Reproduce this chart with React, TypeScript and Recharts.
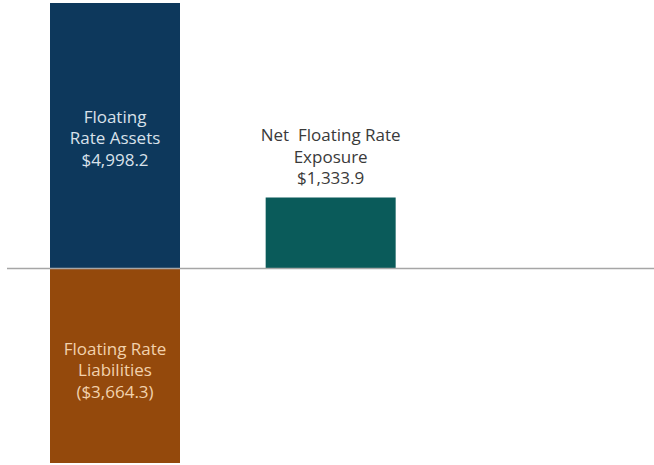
import { BarChart, Bar, XAxis, YAxis, ReferenceLine, LabelList } from 'recharts';

// Werte in Mio. USD
const CATEGORIES = ['Floating Rate', 'Net Exposure', ''];
const ASSETS = [4998.2, 0, 0];
const LIABILITIES = [-3664.3, 0, 0];
const NET = [0, 1333.9, 0];

const ASSET_LINES = ['Floating', 'Rate Assets', '$4,998.2'];
const LIABILITY_LINES = ['Floating Rate', 'Liabilities', '($3,664.3)'];
const NET_LINES = ['Net  Floating Rate', 'Exposure', '$1,333.9'];

const NAVY = '#0d385c';
const RUST = '#94490c';
const TEAL = '#0a5b5a';
const BASELINE = '#a6a6a6';
const FONT = '"Open Sans", sans-serif';
const LINE_H = 21.5;

const rows = CATEGORIES.map((name, i) => ({
  name,
  assets: ASSETS[i] || null,
  liabilities: LIABILITIES[i] || null,
  net: NET[i] || null,
}));

// mehrzeiliges Label; offset = Abstand der ersten Zeile zur Balkenoberkante
function makeLabel(lines: string[], color: string, offset: number) {
  return (props: any) => {
    const { x, y, width, height, value } = props;
    if (!value) return null;
    const top = Math.min(Number(y), Number(y) + Number(height));
    const cx = Number(x) + Number(width) / 2;
    return (
      <g>
        {lines.map((t, i) => (
          <text
            key={i}
            x={cx}
            y={top + offset + i * LINE_H}
            fill={color}
            fontSize={17}
            fontFamily={FONT}
            textAnchor="middle"
            dominantBaseline="central"
            style={{ whiteSpace: 'pre' }}
          >
            {t}
          </text>
        ))}
      </g>
    );
  };
}

export default function App() {
  return (
    <div style={{ position: 'absolute', left: 0, top: 0, background: '#fff' }}>
      <BarChart
        width={654}
        height={465}
        data={rows}
        stackOffset="sign"
        barCategoryGap={43}
        margin={{ top: 3, right: 0, bottom: 2, left: 7 }}
      >
        <XAxis dataKey="name" hide />
        <YAxis hide domain={[-3664.3, 4998.2]} />
        <Bar dataKey="assets" stackId="a" fill={NAVY} isAnimationActive={false}>
          <LabelList dataKey="assets" content={makeLabel(ASSET_LINES, '#d9e1ea', 113)} />
        </Bar>
        <Bar dataKey="liabilities" stackId="a" fill={RUST} isAnimationActive={false}>
          <LabelList dataKey="liabilities" content={makeLabel(LIABILITY_LINES, '#f2d2ad', 80)} />
        </Bar>
        <Bar dataKey="net" stackId="a" fill={TEAL} isAnimationActive={false}>
          <LabelList dataKey="net" content={makeLabel(NET_LINES, '#3a3a3a', -63)} />
        </Bar>
        <ReferenceLine y={0} stroke={BASELINE} strokeWidth={1.5} />
      </BarChart>
    </div>
  );
}
